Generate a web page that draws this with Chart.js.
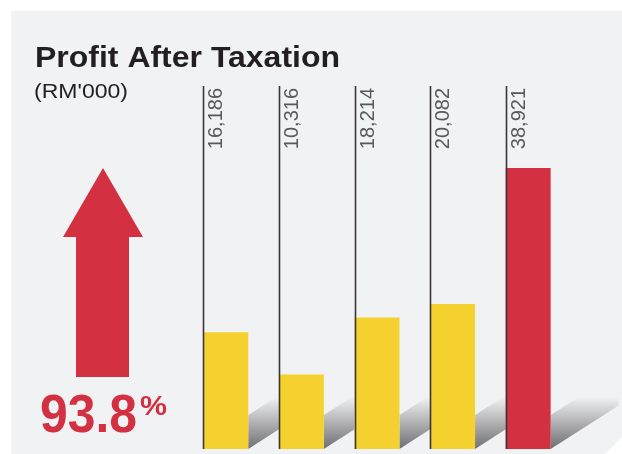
<!DOCTYPE html>
<html>
<head>
<meta charset="utf-8">
<script src="https://cdn.jsdelivr.net/npm/chart.js@4.4.0/dist/chart.umd.min.js"></script>
<style>
  html, body { margin: 0; padding: 0; background: #fff; }
  #wrap { width: 622px; height: 454px; position: relative; }
</style>
</head>
<body>
<div id="wrap"><canvas id="mycanvas" width="622" height="454"></canvas></div>
<script>
// data
var years = ['Year 1', 'Year 2', 'Year 3', 'Year 4', 'Year 5'];
var profit = [16186, 10316, 18214, 20082, 38921];
var valueLabels = ['16,186', '10,316', '18,214', '20,082', '38,921'];
var barColours = ['#f5d12f', '#f5d12f', '#f5d12f', '#f5d12f', '#d33141'];

var RED = '#d33141';
var BG = '#f1f2f4';

// draw text stretched to a given width (the original uses a wider Helvetica)
function wideText(ctx, txt, x, y, w) {
	var m = ctx.measureText(txt).width;
	ctx.save();
	ctx.translate(x, y);
	ctx.scale(w / m, 1);
	ctx.fillText(txt, 0, 0);
	ctx.restore();
}

var decor = {
	id: 'decor',
	beforeDraw: function(chart) {
		var ctx = chart.ctx;
		ctx.save();
		ctx.fillStyle = '#fff';
		ctx.fillRect(0, 0, chart.width, chart.height);
		// panel
		ctx.fillStyle = BG;
		ctx.beginPath();
		ctx.moveTo(11, 11);
		ctx.lineTo(622, 11);
		ctx.lineTo(622, 437);
		ctx.lineTo(605, 454);
		ctx.lineTo(11, 454);
		ctx.closePath();
		ctx.fill();

		// titles
		ctx.fillStyle = '#231f20';
		ctx.textBaseline = 'alphabetic';
		ctx.font = 'bold 29px "Liberation Sans", Arial, sans-serif';
		wideText(ctx, 'Profit After Taxation', 35, 67, 305);
		ctx.font = '20px "Liberation Sans", Arial, sans-serif';
		wideText(ctx, "(RM'000)", 34, 98, 94);

		// arrow
		ctx.fillStyle = RED;
		ctx.beginPath();
		ctx.moveTo(103, 168);
		ctx.lineTo(143, 237);
		ctx.lineTo(129, 237);
		ctx.lineTo(129, 377);
		ctx.lineTo(76, 377);
		ctx.lineTo(76, 237);
		ctx.lineTo(63, 237);
		ctx.closePath();
		ctx.fill();

		ctx.font = 'bold 53px "Liberation Sans", Arial, sans-serif';
		wideText(ctx, '93.8', 40, 432, 97);
		ctx.font = 'bold 27px "Liberation Sans", Arial, sans-serif';
		wideText(ctx, '%', 140, 415, 27);
		ctx.restore();
	},
	beforeDatasetsDraw: function(chart) {
		var ctx = chart.ctx;
		var meta = chart.getDatasetMeta(0);
		var base = chart.scales.y.getPixelForValue(0);
		ctx.save();
		// shadows behind each bar
		meta.data.forEach(function(bar, i) {
			var r = bar.x + bar.width / 2;
			var next = i < meta.data.length - 1 ? meta.data[i + 1].x - bar.width / 2 : r + 68;
			var len = next - r;
			var k = 0.64;
			var g = ctx.createLinearGradient(0, base, 0, base - 52);
			g.addColorStop(0, '#6f6f73');
			g.addColorStop(1, BG);
			ctx.fillStyle = g;
			ctx.beginPath();
			ctx.moveTo(r, base);
			ctx.lineTo(r, base - 34);
			ctx.lineTo(r + len, base - 34 - len * k);
			ctx.lineTo(r + len, base - len * k);
			ctx.closePath();
			ctx.fill();
		});
		ctx.restore();
	},
	afterDatasetsDraw: function(chart) {
		var ctx = chart.ctx;
		var meta = chart.getDatasetMeta(0);
		var base = chart.scales.y.getPixelForValue(0);
		ctx.save();
		meta.data.forEach(function(bar, i) {
			var l = Math.round(bar.x - bar.width / 2) + 0.5;
			ctx.strokeStyle = '#3b3536';
			ctx.lineWidth = 1.6;
			ctx.beginPath();
			ctx.moveTo(l, 86);
			ctx.lineTo(l, base);
			ctx.stroke();

			ctx.save();
			ctx.translate(l + 13, 88);
			ctx.rotate(-Math.PI / 2);
			ctx.fillStyle = '#58595b';
			ctx.font = '20px "Liberation Sans", Arial, sans-serif';
			ctx.textAlign = 'right';
			ctx.textBaseline = 'middle';
			ctx.fillText(valueLabels[i], 0, 0);
			ctx.restore();
		});
		ctx.restore();
	}
};

var chartdata = {
	labels: years,
	datasets: [
		{
			label: 'Profit After Taxation',
			data: profit,
			backgroundColor: barColours,
			borderWidth: 0,
			barPercentage: 0.594,
			categoryPercentage: 1
		}
	]
};

var ctx = document.getElementById('mycanvas');

var barGraph = new Chart(ctx, {
	type: 'bar',
	data: chartdata,
	options: {
		responsive: false,
		animation: false,
		layout: {
			padding: { left: 188, right: 56, top: 88, bottom: 5 }
		},
		scales: {
			x: { display: false },
			y: { display: false, min: 0, max: 50000 }
		},
		plugins: {
			legend: { display: false },
			tooltip: { enabled: false }
		}
	},
	plugins: [decor]
});
</script>
</body>
</html>
